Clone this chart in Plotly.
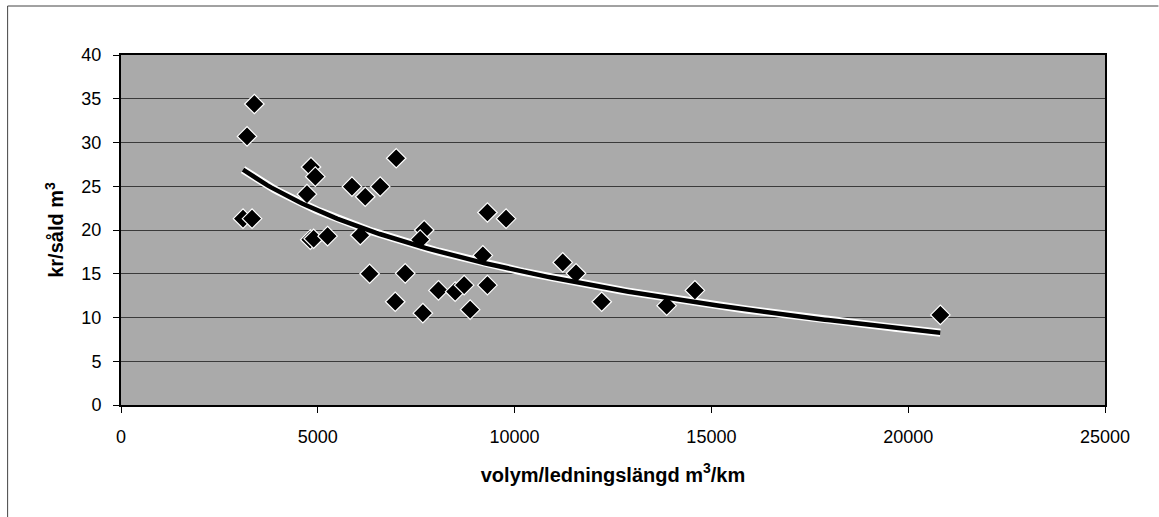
import numpy as np
import plotly.graph_objects as go

# Data
volym = [3100, 3330, 3203, 3388, 4725, 4827, 4937, 4810, 4894, 5249,
         5867, 6205, 6079, 6316, 6586, 6992, 6967, 7221, 7703, 7602,
         7670, 8066, 8490, 8718, 8871, 9193, 9310, 9310, 9784, 11223,
         11561, 12213, 13863, 14581, 20817]
kr_per_m3 = [21.3, 21.3, 30.7, 34.4, 24.1, 27.2, 26.1, 18.9, 19.0, 19.3,
             24.95, 23.8, 19.4, 15.0, 24.95, 28.2, 11.8, 15.05, 20.0, 18.9,
             10.5, 13.1, 12.95, 13.7, 10.9, 17.1, 13.7, 22.0, 21.3, 16.3,
             15.05, 11.8, 11.35, 13.1, 10.3]
x_ticks = [0, 5000, 10000, 15000, 20000, 25000]
x_tick_labels = ["0", "5000", "10000", "15000", "20000", "25000"]
y_ticks = [0, 5, 10, 15, 20, 25, 30, 35, 40]
y_tick_labels = ["0", "5", "10", "15", "20", "25", "30", "35", "40"]

# Logarithmic trend line (as Excel would fit it) from the data
xv = np.array(volym, dtype=float)
yv = np.array(kr_per_m3, dtype=float)
b, a = np.polyfit(np.log(xv), yv, 1)
tx = np.linspace(xv.min(), xv.max(), 200)
ty = a + b * np.log(tx)

fig = go.Figure()
fig.add_trace(go.Scatter(x=tx, y=ty, mode="lines",
                         line=dict(color="white", width=8), hoverinfo="skip",
                         showlegend=False))
fig.add_trace(go.Scatter(x=volym, y=kr_per_m3, mode="markers",
                         marker=dict(symbol="diamond", size=15, color="black",
                                     line=dict(color="white", width=1.2)),
                         showlegend=False))
fig.add_trace(go.Scatter(x=tx, y=ty, mode="lines",
                         line=dict(color="black", width=4.5), hoverinfo="skip",
                         showlegend=False))

font = "Liberation Sans, Arial, sans-serif"
L, R, T, B = 120.5, 53.5, 55, 112
W, H = 1159, 517
pw, ph = W - L - R, H - T - B

def px(xp):
    return (xp - L) / pw

def py(yp):
    return (H - B - yp) / ph

fig.update_layout(
    width=W, height=H,
    margin=dict(l=L, r=R, t=T, b=B, autoexpand=False),
    paper_bgcolor="white",
    plot_bgcolor="#aaaaaa",
    font=dict(family=font, size=18, color="black"),
    xaxis=dict(range=[0, 25000], tickvals=x_ticks, ticktext=x_tick_labels,
               showgrid=False,
               zeroline=False, showline=True, linecolor="black", linewidth=2,
               mirror=True, ticks="outside", ticklen=6, tickcolor="black",
               tickfont=dict(size=18), ticklabelstandoff=8,
               title=dict(text="volym/ledningslängd m<sup>3</sup>/km",
                          font=dict(size=20, family=font, weight="bold"),
                          standoff=22)),
    yaxis=dict(range=[0, 40], tickvals=y_ticks, ticktext=y_tick_labels,
               showgrid=True,
               gridcolor="#3a3a3a", gridwidth=1, zeroline=False,
               showline=True, linecolor="black", linewidth=2, mirror=True,
               ticks="outside", ticklen=6, tickcolor="black",
               tickfont=dict(size=18), ticklabelstandoff=8,
               title=dict(text="kr/såld m<sup>3</sup>",
                          font=dict(size=20, family=font, weight="bold"),
                          standoff=12)),
    shapes=[
        dict(type="line", xref="paper", yref="paper",
             x0=px(7), x1=px(7), y0=py(6), y1=py(517),
             line=dict(color="#444", width=1)),
        dict(type="line", xref="paper", yref="paper",
             x0=px(7), x1=px(1159), y0=py(6), y1=py(6),
             line=dict(color="#444", width=1)),
    ],
)

fig.write_html("out.html",
               config={"displayModeBar": False},
               post_script="document.body.style.margin='0';"
                           "document.body.style.overflow='hidden';")
